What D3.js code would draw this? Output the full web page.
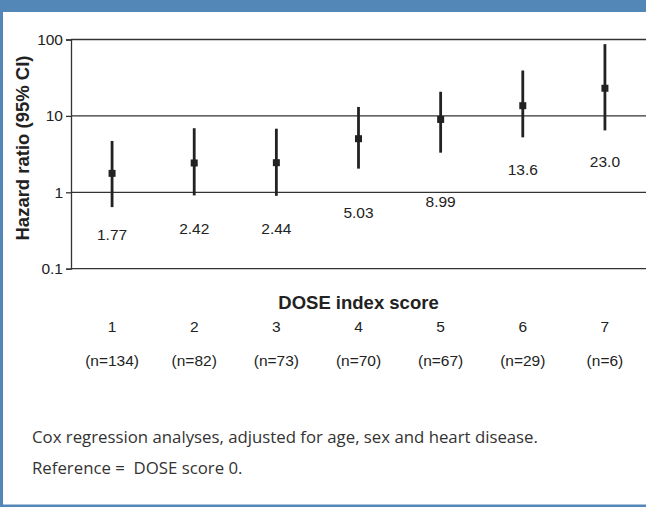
<!DOCTYPE html>
<html>
<head>
<meta charset="utf-8">
<script src="https://cdnjs.cloudflare.com/ajax/libs/d3/7.8.5/d3.min.js"></script>
<style>
  html, body { margin: 0; padding: 0; background: #fff; }
  svg { display: block; }
</style>
</head>
<body>
<div id="chart"></div>
<script>
// DOSE index score categories and hazard ratios (95% CI)
const scores = ["1", "2", "3", "4", "5", "6", "7"]
const counts = ["(n=134)", "(n=82)", "(n=73)", "(n=70)", "(n=67)", "(n=29)", "(n=6)"]
const hazard = [1.77, 2.42, 2.44, 5.03, 8.99, 13.6, 23.0]
const hrLabels = ["1.77", "2.42", "2.44", "5.03", "8.99", "13.6", "23.0"]
const ciLow = [0.64, 0.91, 0.90, 2.04, 3.3, 5.24, 6.46]
const ciHigh = [4.7, 6.9, 6.8, 13.1, 20.7, 39.3, 87]
// where each value label sits, on the hazard ratio axis
const labelAt = [0.28, 0.335, 0.335, 0.54, 0.76, 1.98, 2.55]
const yTicks = [0.1, 1, 10, 100]
const notes = ["Cox regression analyses, adjusted for age, sex and heart disease.",
               "Reference =  DOSE score 0."]

const W = 646, H = 507
const blue = "#5387b8"
const ink = "#222"
const sans = "'Liberation Sans', Arial, sans-serif"

let svg = d3.select("#chart")
    .append("svg")
    .attr("width", W)
    .attr("height", H)

// frame
svg.append("rect").attr("x", 0).attr("y", 0).attr("width", W).attr("height", 12).attr("fill", blue)
svg.append("rect").attr("x", 0).attr("y", 0).attr("width", 3).attr("height", H).attr("fill", blue)
svg.append("rect").attr("x", 0).attr("y", H - 2.5).attr("width", W).attr("height", 2.5).attr("fill", blue)

let x = d3.scaleBand()
    .domain(scores)
    .range([71, 646])

let y = d3.scaleLog()
    .domain([0.1, 100])
    .range([268.7, 39.5])

// gridlines
svg.append("g")
    .selectAll("line")
    .data(yTicks)
    .join("line")
    .attr("x1", 71)
    .attr("x2", W)
    .attr("y1", d => y(d))
    .attr("y2", d => y(d))
    .attr("stroke", "#333")
    .attr("stroke-width", 1.3)

// y axis
let yAxis = svg.append("g")
    .attr("transform", "translate(71,0)")
    .call(d3.axisLeft(y).tickValues(yTicks).tickFormat(d => d3.format("")(d)).tickSize(5).tickPadding(3))
yAxis.select(".domain").attr("stroke", "#333").attr("stroke-width", 1.3)
yAxis.selectAll(".tick line").attr("stroke", "#333").attr("stroke-width", 1.3)
yAxis.selectAll(".tick text")
    .attr("font-family", sans)
    .attr("font-size", 15.5)
    .attr("fill", ink)

svg.append("text")
    .attr("transform", "translate(29,148) rotate(-90)")
    .attr("text-anchor", "middle")
    .attr("font-family", sans)
    .attr("font-size", 18.5)
    .attr("font-weight", "bold")
    .attr("fill", ink)
    .text("Hazard ratio (95% CI)")

let cx = d => x(d) + x.bandwidth() / 2

// confidence intervals
svg.append("g")
    .selectAll("line")
    .data(scores)
    .join("line")
    .attr("x1", cx)
    .attr("x2", cx)
    .attr("y1", (d, i) => y(ciLow[i]))
    .attr("y2", (d, i) => y(ciHigh[i]))
    .attr("stroke", ink)
    .attr("stroke-width", 2.8)

// point estimates
svg.append("g")
    .selectAll("rect")
    .data(scores)
    .join("rect")
    .attr("x", d => cx(d) - 3.5)
    .attr("y", (d, i) => y(hazard[i]) - 3.5)
    .attr("width", 7)
    .attr("height", 7)
    .attr("fill", ink)

// value labels
svg.append("g")
    .selectAll("text")
    .data(scores)
    .join("text")
    .attr("x", cx)
    .attr("y", (d, i) => y(labelAt[i]))
    .attr("dy", "0.35em")
    .attr("text-anchor", "middle")
    .attr("font-family", sans)
    .attr("font-size", 15.5)
    .attr("fill", ink)
    .text((d, i) => hrLabels[i])

// x axis labels
svg.append("text")
    .attr("x", (x.range()[0] + x.range()[1]) / 2)
    .attr("y", 308.5)
    .attr("text-anchor", "middle")
    .attr("font-family", sans)
    .attr("font-size", 18.5)
    .attr("font-weight", "bold")
    .attr("fill", ink)
    .text("DOSE index score")

svg.append("g")
    .selectAll("text")
    .data(scores)
    .join("text")
    .attr("x", cx)
    .attr("y", 331.5)
    .attr("text-anchor", "middle")
    .attr("font-family", sans)
    .attr("font-size", 15.5)
    .attr("fill", ink)
    .text(d => d)

svg.append("g")
    .selectAll("text")
    .data(counts)
    .join("text")
    .attr("x", (d, i) => cx(scores[i]))
    .attr("y", 366)
    .attr("text-anchor", "middle")
    .attr("font-family", sans)
    .attr("font-size", 15.5)
    .attr("fill", ink)
    .text(d => d)

// footnote
svg.append("g")
    .selectAll("text")
    .data(notes)
    .join("text")
    .attr("x", 32)
    .attr("y", (d, i) => 443 + i * 30.5)
    .attr("font-family", "'Open Sans', 'Noto Sans', sans-serif")
    .attr("font-size", 16.8)
    .attr("fill", "#333")
    .style("white-space", "pre")
    .text(d => d)
</script>
</body>
</html>
